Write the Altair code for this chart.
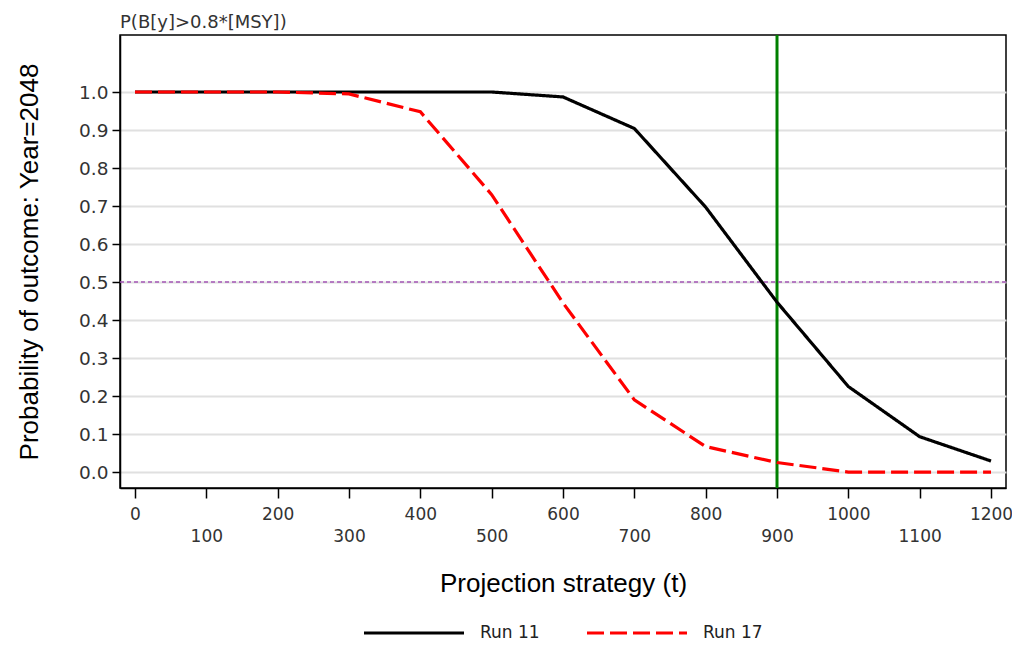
import altair as alt
import pandas as pd

strategy = [0, 100, 200, 300, 400, 500, 600, 700, 800, 900, 1000, 1100, 1200]
run11 = [1.0, 1.0, 1.0, 1.0, 1.0, 1.0, 0.987, 0.904, 0.697, 0.447, 0.225, 0.093, 0.029]
run17 = [1.0, 1.0, 1.0, 0.995, 0.948, 0.73, 0.445, 0.19, 0.067, 0.025, 0.0, 0.0, 0.0]
runs = ["Run 11", "Run 17"]
x_ticks = list(range(0, 1300, 100))
y_ticks = [0.0, 0.1, 0.2, 0.3, 0.4, 0.5, 0.6, 0.7, 0.8, 0.9, 1.0]
ref_prob = [0.5]
ref_strategy = [900]

df = pd.concat([
    pd.DataFrame({"strategy": strategy, "prob": run11, "run": runs[0]}),
    pd.DataFrame({"strategy": strategy, "prob": run17, "run": runs[1]}),
])

LABEL_FONT = "DejaVu Sans"
TITLE_FONT = "Liberation Sans"

x_enc = alt.X(
    "strategy:Q",
    scale=alt.Scale(domain=[-21, 1221], nice=False, zero=False),
    axis=alt.Axis(
        values=x_ticks,
        format="d",
        title="Projection strategy (t)",
        labelExpr="datum.value % 200 == 0 ? datum.label : ['', datum.label]",
        labelFontSize=17,
        labelLineHeight=22,
        labelOverlap=False,
        labelFlush=False,
        tickSize=10,
        labelPadding=8,
        titlePadding=26,
        grid=False,
    ),
)
y_enc = alt.Y(
    "prob:Q",
    scale=alt.Scale(domain=[-0.042, 1.15], nice=False, zero=False),
    axis=alt.Axis(
        values=y_ticks,
        format=".1f",
        title="Probability of outcome: Year=2048",
        labelFontSize=18.5,
        tickSize=8,
        labelPadding=4,
        titlePadding=36,
        grid=True,
    ),
)

green = (
    alt.Chart(pd.DataFrame({"strategy": ref_strategy}))
    .mark_rule(color="#008000", strokeWidth=3)
    .encode(x=alt.X("strategy:Q"))
)
purple = (
    alt.Chart(pd.DataFrame({"prob": ref_prob}))
    .mark_rule(color="#a455b5", strokeDash=[4, 3], strokeWidth=1.3)
    .encode(y=alt.Y("prob:Q"))
)
lines = (
    alt.Chart(df)
    .mark_line(strokeWidth=3.2)
    .encode(
        x=x_enc,
        y=y_enc,
        color=alt.Color(
            "run:N",
            scale=alt.Scale(domain=runs, range=["#000000", "#ff0000"]),
            legend=alt.Legend(
                title=None,
                orient="none",
                direction="horizontal",
                legendX=242,
                legendY=546,
                symbolType="stroke",
                symbolSize=10000,
                symbolStrokeWidth=3.2,
                labelFontSize=17,
                labelFont=LABEL_FONT,
                labelColor="#222222",
                labelOffset=14,
                columnPadding=40,
            ),
        ),
        strokeDash=alt.StrokeDash(
            "run:N",
            scale=alt.Scale(domain=runs, range=[[1, 0], [17, 6]]),
            legend=None,
        ),
    )
)

chart = (
    alt.layer(green, purple, lines)
    .properties(
        width=886,
        height=453,
        autosize=alt.AutoSizeParams(type="none"),
        padding={"left": 112, "top": 27, "right": 6, "bottom": 153},
        title=alt.TitleParams(
            "P(B[y]>0.8*[MSY])",
            anchor="start",
            frame="group",
            fontSize=18,
            fontWeight="normal",
            font=LABEL_FONT,
            color="#333333",
            offset=2,
        ),
    )
    .configure_view(stroke="#000000", strokeWidth=1.5)
    .configure_axis(
        labelFont=LABEL_FONT,
        labelColor="#333333",
        titleFont=TITLE_FONT,
        titleFontSize=26,
        titleFontWeight="normal",
        titleColor="#000000",
        domainColor="#000000",
        domainWidth=1.5,
        tickColor="#000000",
        tickWidth=1.5,
        gridColor="#e0e0e0",
        gridWidth=2,
    )
)

chart.save("out.html", embed_options={"renderer": "svg", "actions": False})
